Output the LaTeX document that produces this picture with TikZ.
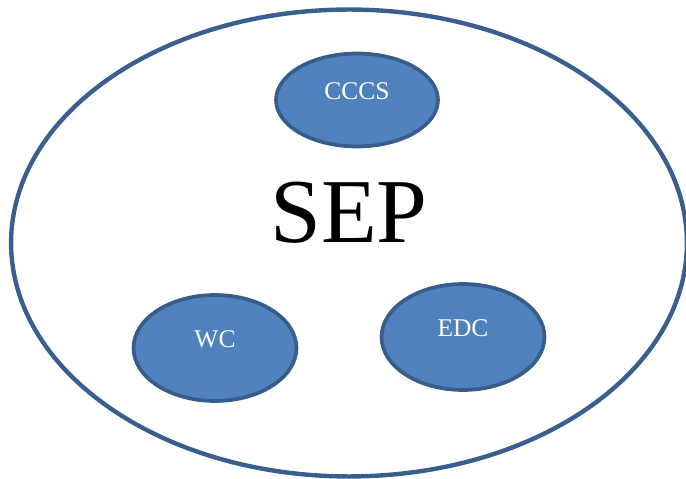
\documentclass[tikz,border=0pt]{standalone}
\usepackage{fontspec}
\setmainfont{Liberation Serif}
\usepackage{tikz}
\usetikzlibrary{shapes.geometric}
\definecolor{blobfill}{HTML}{4F81BD}
\definecolor{blobline}{HTML}{385D8A}
\definecolor{ringline}{HTML}{3A5F8F}

\begin{document}
\begin{tikzpicture}[
  x=0.02cm,y=-0.02cm,
  ring/.style={ellipse,draw=ringline,line width=2.5pt,inner sep=0pt,minimum width=13.52cm,minimum height=9.34cm,font=\fontsize{52}{56}\selectfont,text depth=35pt},
  blob/.style={ellipse,draw=blobline,fill=blobfill,line width=2.1pt,inner sep=0pt,minimum width=3.26cm,minimum height=2.12cm,text=white,font=\fontsize{14.5}{16}\selectfont,text depth=10pt}]
\useasboundingbox (0,0) rectangle (686,479);
% outer system
\node[ring] (sep) at (349,243) {SEP};
% parts
\node[blob,minimum width=3.24cm,minimum height=1.86cm] (cccs) at (357,100) {CCCS};
\node[blob] (wc) at (215,348) {WC};
\node[blob] (edc) at (463,337) {EDC};
\end{tikzpicture}
\end{document}
